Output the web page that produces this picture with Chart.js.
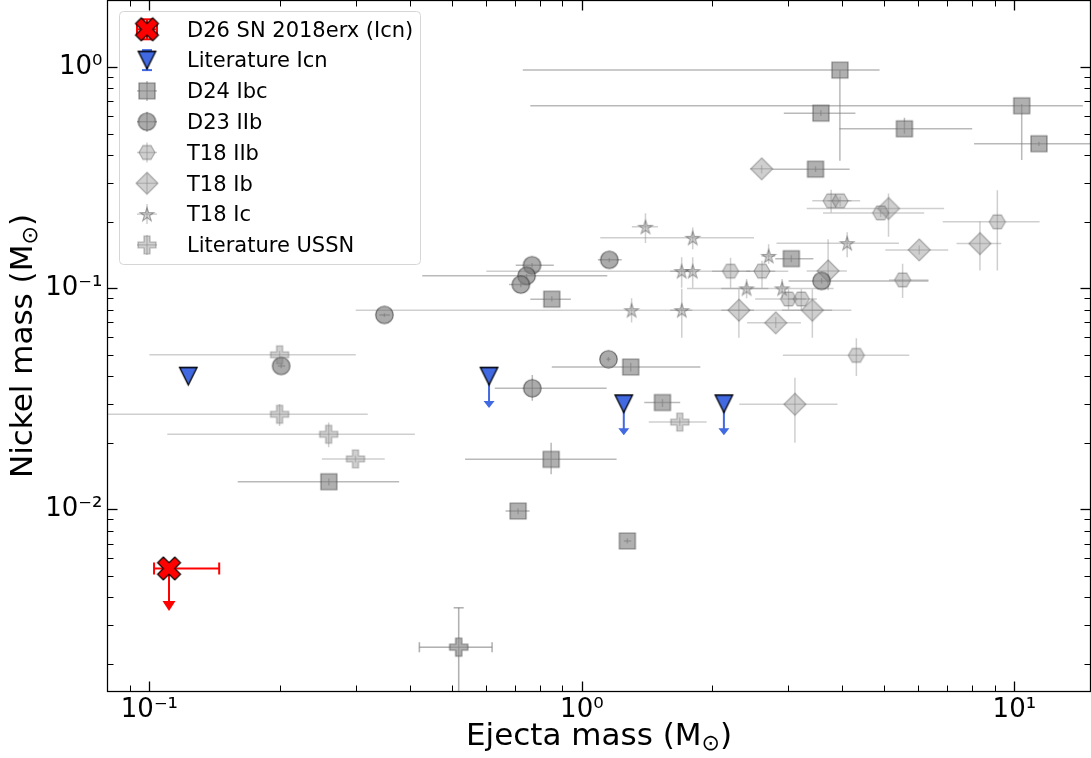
<!DOCTYPE html>
<html>
<head>
<meta charset="utf-8">
<title>Nickel mass vs ejecta mass</title>
<script src="https://cdn.jsdelivr.net/npm/chart.js@4.4.1/dist/chart.umd.min.js"></script>
<style>
html, body { margin: 0; padding: 0; background: #ffffff; overflow: hidden; }
#wrap { width: 1091px; height: 758px; }
canvas { display: block; }
</style>
</head>
<body>
<div id="wrap"><canvas id="chart" width="1091" height="758"></canvas></div>
<script>
// ================= DATA =================
const seriesLabels = ['D26 SN 2018erx (Icn)', 'Literature Icn', 'D24 Ibc', 'D23 IIb',
                      'T18 IIb', 'T18 Ib', 'T18 Ic', 'Literature USSN'];

const xAxisLimits = [0.08, 15];
const yAxisLimits = [0.0015, 2.0];
const xMajorTicks = [0.1, 1, 10];
const xMajorLabels = ['10\u207B\u00B9', '10\u2070', '10\u00B9'];
const xMinorTicks = [0.09, 0.2, 0.3, 0.4, 0.5, 0.6, 0.7, 0.8, 0.9, 2, 3, 4, 5, 6, 7, 8, 9];
const yMajorTicks = [0.01, 0.1, 1];
const yMajorLabels = ['10\u207B\u00B2', '10\u207B\u00B9', '10\u2070'];
const yMinorTicks = [0.002, 0.003, 0.004, 0.005, 0.006, 0.007, 0.008, 0.009,
                     0.02, 0.03, 0.04, 0.05, 0.06, 0.07, 0.08, 0.09,
                     0.2, 0.3, 0.4, 0.5, 0.6, 0.7, 0.8, 0.9];
const xAxisTitle = ['Ejecta mass (M', '\u2299', ')'];
const yAxisTitle = ['Nickel mass (M', '\u2299', ')'];

// D26 SN 2018erx (Icn) - upper limit in nickel mass
const d26X = [0.111];
const d26Y = [0.0054];
const d26XLo = [0.1025];
const d26XHi = [0.145];
const d26ArrowBase = [0.00385];

// Literature Icn (upper limits)
const icnX = [0.123, 0.61, 1.25, 2.13];
const icnY = [0.040, 0.040, 0.030, 0.030];
const icnArrowBase = [null, 0.0309, 0.02325, 0.02325];

// D24 Ibc
const d24X   = [3.95, 10.4, 3.57, 5.57, 11.4, 3.47, 3.05, 0.852, 1.297, 1.536, 0.849, 0.260, 0.712, 1.274];
const d24Y   = [0.969, 0.668, 0.619, 0.526, 0.450, 0.3455, 0.136, 0.0892, 0.0440, 0.0304, 0.01683, 0.01333, 0.00982, 0.00719];
const d24XLo = [0.73, 0.76, 2.93, 3.94, 8.07, 2.75, 2.80, 0.76, 0.852, 1.394, 0.537, 0.160, 0.666, 1.25];
const d24XHi = [4.88, 14.4, 4.29, 7.99, 16.0, 4.16, 3.43, 0.943, 1.879, 1.688, 1.203, 0.378, 0.757, 1.30];
const d24YLo = [0.377, 0.38, 0.60, 0.50, 0.44, 0.335, 0.131, 0.087, 0.042, 0.029, 0.0144, 0.0128, 0.0095, 0.0070];
const d24YHi = [0.97, 0.68, 0.64, 0.59, 0.46, 0.356, 0.141, 0.092, 0.046, 0.0315, 0.0200, 0.0138, 0.0101, 0.0074];

// D23 IIb
const d23X   = [0.767, 0.745, 0.7225, 1.157, 3.584, 0.3494, 0.2017, 1.152, 0.768];
const d23Y   = [0.127, 0.1137, 0.1038, 0.1343, 0.1079, 0.0757, 0.0445, 0.0477, 0.03527];
const d23XLo = [0.703, 0.4275, 0.6785, 1.089, 3.006, 0.340, 0.198, 1.14, 0.629];
const d23XHi = [0.861, 1.145, 0.758, 1.236, 6.33, 0.360, 0.206, 1.165, 1.141];
const d23YLo = [0.124, 0.111, 0.101, 0.131, 0.105, 0.074, 0.0435, 0.0466, 0.031];
const d23YHi = [0.130, 0.116, 0.106, 0.137, 0.111, 0.077, 0.0455, 0.0488, 0.0405];

// T18 IIb
const t18IIbX   = [3.77, 3.955, 4.907, 9.135, 5.516, 2.207, 2.609, 3.005, 3.217, 4.312];
const t18IIbY   = [0.2483, 0.2483, 0.219, 0.1995, 0.109, 0.1194, 0.1194, 0.0894, 0.0894, 0.0497];
const t18IIbXLo = [3.41, 3.70, 3.61, 6.83, 5.13, 2.0, 2.4, 2.515, 3.0, 2.916];
const t18IIbXHi = [4.40, 4.2, 6.19, 11.44, 6.33, 2.45, 2.8, 3.3, 3.494, 5.715];
const t18IIbYLo = [0.2197, 0.235, 0.21, 0.1203, 0.0903, 0.1005, 0.1005, 0.08, 0.08, 0.0401];
const t18IIbYHi = [0.279, 0.26, 0.228, 0.2775, 0.129, 0.1372, 0.133, 0.099, 0.099, 0.0594];

// T18 Ib
const t18IbX   = [2.604, 5.117, 6.026, 8.326, 3.71, 2.307, 3.411, 2.807, 3.109];
const t18IbY   = [0.3466, 0.2292, 0.149, 0.1591, 0.1197, 0.0795, 0.0795, 0.0697, 0.02986];
const t18IbXLo = [2.45, 3.31, 5.03, 7.35, 3.31, 2.1, 2.9, 2.41, 2.313];
const t18IbXHi = [2.75, 6.88, 7.03, 9.33, 4.10, 2.5, 4.2, 3.21, 3.9];
const t18IbYLo = [0.33, 0.1707, 0.142, 0.1203, 0.098, 0.0597, 0.0597, 0.066, 0.020];
const t18IbYHi = [0.36, 0.268, 0.156, 0.200, 0.1666, 0.099, 0.0988, 0.074, 0.0394];

// T18 Ic
const t18IcX   = [1.403, 1.804, 2.703, 4.106, 1.701, 1.804, 2.404, 2.905, 1.303, 1.702];
const t18IcY   = [0.1894, 0.1689, 0.140, 0.1598, 0.1194, 0.1194, 0.0998, 0.0998, 0.0795, 0.0795];
const t18IcXLo = [1.305, 1.103, 2.6, 2.818, 1.6, 0.6013, 2.1, 1.75, 0.30, 1.6];
const t18IcXHi = [1.499, 2.5, 2.8, 5.41, 1.8, 3.0, 2.7, 3.82, 3.79, 1.8];
const t18IcYLo = [0.160, 0.150, 0.129, 0.138, 0.1005, 0.1005, 0.090, 0.090, 0.070, 0.0597];
const t18IcYHi = [0.218, 0.188, 0.158, 0.179, 0.138, 0.138, 0.110, 0.110, 0.090, 0.0995];

// Literature USSN
const ussnX   = [0.200, 0.200, 0.2597, 0.2996, 1.684, 0.519, 0.519];
const ussnY   = [0.050, 0.0269, 0.02185, 0.0169, 0.0248, 0.00238, 0.00238];
const ussnXLo = [0.10, 0.07, 0.110, 0.2505, 1.428, 0.421, 0.421];
const ussnXHi = [0.30, 0.3198, 0.411, 0.350, 1.943, 0.620, 0.620];
const ussnYLo = [0.048, 0.0238, 0.0191, 0.0163, 0.0238, 0.0010, 0.0010];
const ussnYHi = [0.052, 0.02995, 0.0247, 0.0175, 0.026, 0.00359, 0.00359];
const ussnCapped = [false, false, false, false, false, true, true];

// ================= MARKERS =================
function shapePath(ctx, kind, s) {
  const r = s / 2;
  ctx.beginPath();
  if (kind === 'square') {
    ctx.rect(-r, -r, s, s);
  } else if (kind === 'circle') {
    ctx.arc(0, 0, r, 0, Math.PI * 2);
  } else if (kind === 'diamond') {
    ctx.moveTo(0, -r); ctx.lineTo(r, 0); ctx.lineTo(0, r); ctx.lineTo(-r, 0); ctx.closePath();
  } else if (kind === 'hexagon') {
    for (let k = 0; k < 6; k++) {
      const a = k * Math.PI / 3;
      const px = r * Math.cos(a), py = r * Math.sin(a);
      if (k === 0) ctx.moveTo(px, py); else ctx.lineTo(px, py);
    }
    ctx.closePath();
  } else if (kind === 'star') {
    const inner = r * 0.381966;
    for (let k = 0; k < 10; k++) {
      const a = -Math.PI / 2 + k * Math.PI / 5;
      const rr = (k % 2 === 0) ? r : inner;
      const px = rr * Math.cos(a), py = rr * Math.sin(a) + r * 0.1;
      if (k === 0) ctx.moveTo(px, py); else ctx.lineTo(px, py);
    }
    ctx.closePath();
  } else if (kind === 'plus') {
    const t = s / 6;
    const p = [[-t,-r],[t,-r],[t,-t],[r,-t],[r,t],[t,t],[t,r],[-t,r],[-t,t],[-r,t],[-r,-t],[-t,-t]];
    p.forEach((q, k) => k === 0 ? ctx.moveTo(q[0], q[1]) : ctx.lineTo(q[0], q[1]));
    ctx.closePath();
  } else if (kind === 'xfilled') {
    const v = [[0.25,0],[0.5,0.25],[0.75,0],[1,0.25],[0.75,0.5],[1,0.75],[0.75,1],[0.5,0.75],[0.25,1],[0,0.75],[0.25,0.5],[0,0.25]];
    v.forEach((q, k) => {
      const px = (q[0] - 0.5) * s, py = (q[1] - 0.5) * s;
      if (k === 0) ctx.moveTo(px, py); else ctx.lineTo(px, py);
    });
    ctx.closePath();
  } else if (kind === 'tridown') {
    ctx.moveTo(-r, -r); ctx.lineTo(r, -r); ctx.lineTo(0, r); ctx.closePath();
  }
}

function makeMarker(kind, size, fill, stroke, lw) {
  const c = document.createElement('canvas');
  const dim = Math.ceil(size + lw + 4);
  c.width = dim; c.height = dim;
  const g = c.getContext('2d');
  g.translate(dim / 2, dim / 2);
  shapePath(g, kind, size);
  g.fillStyle = fill; g.fill();
  g.lineWidth = lw; g.strokeStyle = stroke; g.lineJoin = 'miter'; g.stroke();
  return c;
}

const markerImgs = [
  makeMarker('xfilled', 23, '#ff0000', '#000000', 1.1),
  makeMarker('tridown', 17.5, '#4169e1', '#000000', 1.3),
  makeMarker('square', 16, 'rgba(128,128,128,0.62)', 'rgba(70,70,70,0.6)', 1.2),
  makeMarker('circle', 17.5, 'rgba(120,120,120,0.62)', 'rgba(40,40,40,0.6)', 1.2),
  makeMarker('hexagon', 16, 'rgba(140,140,140,0.42)', 'rgba(90,90,90,0.45)', 1.2),
  makeMarker('diamond', 22, 'rgba(140,140,140,0.42)', 'rgba(90,90,90,0.45)', 1.2),
  makeMarker('star', 14.5, 'rgba(150,150,150,0.42)', 'rgba(80,80,80,0.5)', 1.1),
  makeMarker('plus', 18, 'rgba(140,140,140,0.42)', 'rgba(90,90,90,0.42)', 1.2)
];

const seriesX = [d26X, icnX, d24X, d23X, t18IIbX, t18IbX, t18IcX, ussnX];
const seriesY = [d26Y, icnY, d24Y, d23Y, t18IIbY, t18IbY, t18IcY, ussnY];

const grayHeavy = 'rgba(128,128,128,0.55)';
const grayLight = 'rgba(128,128,128,0.38)';
const errorSpecs = [
  {xlo: d26XLo, xhi: d26XHi, color: '#ff0000', width: 2, cap: 6, arrow: d26ArrowBase, arrowW: 13, arrowH: 10},
  {color: '#4169e1', width: 2, cap: 0, arrow: icnArrowBase, arrowW: 11, arrowH: 7},
  {xlo: d24XLo, xhi: d24XHi, ylo: d24YLo, yhi: d24YHi, color: grayHeavy, width: 1.5, cap: 0},
  {xlo: d23XLo, xhi: d23XHi, ylo: d23YLo, yhi: d23YHi, color: grayHeavy, width: 1.5, cap: 0},
  {xlo: t18IIbXLo, xhi: t18IIbXHi, ylo: t18IIbYLo, yhi: t18IIbYHi, color: grayLight, width: 1.5, cap: 0},
  {xlo: t18IbXLo, xhi: t18IbXHi, ylo: t18IbYLo, yhi: t18IbYHi, color: grayLight, width: 1.5, cap: 0},
  {xlo: t18IcXLo, xhi: t18IcXHi, ylo: t18IcYLo, yhi: t18IcYHi, color: grayLight, width: 1.5, cap: 0},
  {xlo: ussnXLo, xhi: ussnXHi, ylo: ussnYLo, yhi: ussnYHi, color: grayLight, width: 1.5, cap: 5, capMask: ussnCapped}
];

const legendErr = [
  {color: '#ff0000', width: 2, cap: 5, h: true, v: true},
  {color: '#4169e1', width: 2, cap: 5, h: false, v: true},
  {color: grayHeavy, width: 1.5, cap: 0, h: true, v: true},
  {color: grayHeavy, width: 1.5, cap: 0, h: true, v: true},
  {color: grayLight, width: 1.5, cap: 0, h: true, v: true},
  {color: grayLight, width: 1.5, cap: 0, h: true, v: true},
  {color: grayLight, width: 1.5, cap: 0, h: true, v: true},
  {color: grayLight, width: 1.5, cap: 0, h: true, v: true}
];

// ================= HELPERS =================
function sameDecade(a, b) { return Math.abs(Math.log10(a) - Math.log10(b)) < 1e-6; }
function labelFor(v, majors, labels) {
  for (let i = 0; i < majors.length; i++) if (sameDecade(v, majors[i])) return labels[i];
  return '';
}
function seg(ctx, x1, y1, x2, y2) { ctx.beginPath(); ctx.moveTo(x1, y1); ctx.lineTo(x2, y2); ctx.stroke(); }

// ================= PLUGINS =================
const errorBarPlugin = {
  id: 'errorBars',
  beforeDatasetDraw(chart, args) {
    const spec = errorSpecs[args.index];
    if (!spec) return;
    const {ctx, chartArea: a} = chart;
    const sx = chart.scales.x, sy = chart.scales.y;
    const xs = seriesX[args.index], ys = seriesY[args.index];
    ctx.save();
    ctx.beginPath(); ctx.rect(a.left, a.top, a.right - a.left, a.bottom - a.top); ctx.clip();
    ctx.strokeStyle = spec.color; ctx.fillStyle = spec.color; ctx.lineWidth = spec.width; ctx.lineCap = 'butt';
    xs.forEach((xv, i) => {
      const px = sx.getPixelForValue(xv), py = sy.getPixelForValue(ys[i]);
      const capOn = spec.cap > 0 && (!spec.capMask || spec.capMask[i]);
      if (spec.xlo) {
        const l = sx.getPixelForValue(spec.xlo[i]), r = sx.getPixelForValue(spec.xhi[i]);
        seg(ctx, l, py, r, py);
        if (capOn) { seg(ctx, l, py - spec.cap, l, py + spec.cap); seg(ctx, r, py - spec.cap, r, py + spec.cap); }
      }
      if (spec.ylo) {
        const b = sy.getPixelForValue(spec.ylo[i]), t = sy.getPixelForValue(spec.yhi[i]);
        seg(ctx, px, b, px, t);
        if (capOn) { seg(ctx, px - spec.cap, b, px + spec.cap, b); seg(ctx, px - spec.cap, t, px + spec.cap, t); }
      }
      if (spec.arrow && spec.arrow[i] != null) {
        const base = sy.getPixelForValue(spec.arrow[i]);
        seg(ctx, px, py, px, base + 1);
        ctx.beginPath();
        ctx.moveTo(px - spec.arrowW / 2, base);
        ctx.lineTo(px + spec.arrowW / 2, base);
        ctx.lineTo(px, base + spec.arrowH);
        ctx.closePath(); ctx.fill();
      }
    });
    ctx.restore();
  }
};

const framePlugin = {
  id: 'mplFrame',
  afterDraw(chart) {
    const {ctx, chartArea: a} = chart;
    const sx = chart.scales.x, sy = chart.scales.y;
    ctx.save();
    ctx.strokeStyle = '#000000';
    // inward ticks on all four sides
    const tick = (vals, major) => {
      ctx.lineWidth = major ? 1.3 : 1.0;
      const len = major ? 10 : 6;
      vals.forEach(v => {
        const px = Math.round(sx.getPixelForValue(v)) + 0.5;
        if (px > a.left + 1 && px < a.right - 1) {
          seg(ctx, px, a.bottom, px, a.bottom - len);
          seg(ctx, px, a.top, px, a.top + len);
        }
      });
    };
    const ytick = (vals, major) => {
      ctx.lineWidth = major ? 1.3 : 1.0;
      const len = major ? 10 : 6;
      vals.forEach(v => {
        const py = Math.round(sy.getPixelForValue(v)) + 0.5;
        if (py > a.top + 1 && py < a.bottom - 1) {
          seg(ctx, a.left, py, a.left + len, py);
          seg(ctx, a.right, py, a.right - len, py);
        }
      });
    };
    tick(xMinorTicks, false); tick(xMajorTicks, true);
    ytick(yMinorTicks, false); ytick(yMajorTicks, true);
    // spines
    ctx.lineWidth = 1.25;
    ctx.strokeRect(a.left, a.top, a.right - a.left, a.bottom - a.top);

    // axis titles with subscript sun symbol
    const fs = 31;
    const drawTitle = (parts) => {
      ctx.font = fs + 'px "DejaVu Sans"';
      const w0 = ctx.measureText(parts[0]).width;
      ctx.font = Math.round(fs * 0.7) + 'px "DejaVu Sans"';
      const w1 = ctx.measureText(parts[1]).width;
      ctx.font = fs + 'px "DejaVu Sans"';
      const w2 = ctx.measureText(parts[2]).width;
      const tot = w0 + w1 + w2;
      let x = -tot / 2;
      ctx.textAlign = 'left'; ctx.textBaseline = 'alphabetic'; ctx.fillStyle = '#000';
      ctx.fillText(parts[0], x, 0); x += w0;
      ctx.font = Math.round(fs * 0.7) + 'px "DejaVu Sans"';
      ctx.fillText(parts[1], x, fs * 0.16); x += w1;
      ctx.font = fs + 'px "DejaVu Sans"';
      ctx.fillText(parts[2], x, 0);
    };
    ctx.save();
    ctx.translate((a.left + a.right) / 2, 745);
    drawTitle(xAxisTitle);
    ctx.restore();
    ctx.save();
    ctx.translate(32, (a.top + a.bottom) / 2);
    ctx.rotate(-Math.PI / 2);
    drawTitle(yAxisTitle);
    ctx.restore();

    // legend
    const L = {x: 119.5, y: 11.5, w: 301, h: 253, r: 4};
    ctx.beginPath();
    ctx.moveTo(L.x + L.r, L.y);
    ctx.lineTo(L.x + L.w - L.r, L.y); ctx.quadraticCurveTo(L.x + L.w, L.y, L.x + L.w, L.y + L.r);
    ctx.lineTo(L.x + L.w, L.y + L.h - L.r); ctx.quadraticCurveTo(L.x + L.w, L.y + L.h, L.x + L.w - L.r, L.y + L.h);
    ctx.lineTo(L.x + L.r, L.y + L.h); ctx.quadraticCurveTo(L.x, L.y + L.h, L.x, L.y + L.h - L.r);
    ctx.lineTo(L.x, L.y + L.r); ctx.quadraticCurveTo(L.x, L.y, L.x + L.r, L.y);
    ctx.closePath();
    ctx.fillStyle = 'rgba(255,255,255,0.8)'; ctx.fill();
    ctx.lineWidth = 1; ctx.strokeStyle = '#d6d6d6'; ctx.stroke();

    ctx.font = '21px "DejaVu Sans"';
    ctx.textAlign = 'left'; ctx.textBaseline = 'alphabetic';
    seriesLabels.forEach((lab, i) => {
      const cy = 29.3 + i * 30.8, cx = 147;
      const e = legendErr[i];
      ctx.strokeStyle = e.color; ctx.lineWidth = e.width;
      if (e.h) {
        seg(ctx, cx - 10, cy, cx + 10, cy);
        if (e.cap) { seg(ctx, cx - 10, cy - e.cap, cx - 10, cy + e.cap); seg(ctx, cx + 10, cy - e.cap, cx + 10, cy + e.cap); }
      }
      if (e.v) {
        seg(ctx, cx, cy - 10, cx, cy + 10);
        if (e.cap) { seg(ctx, cx - e.cap, cy - 10, cx + e.cap, cy - 10); seg(ctx, cx - e.cap, cy + 10, cx + e.cap, cy + 10); }
      }
      const img = markerImgs[i];
      ctx.drawImage(img, cx - img.width / 2, cy - img.height / 2);
      ctx.fillStyle = '#000';
      ctx.fillText(lab, 187, 36.5 + i * 30.8);
    });
    ctx.restore();
  }
};

// ================= CHART =================
Chart.defaults.font.family = "'DejaVu Sans', sans-serif";

const datasets = seriesLabels.map((lab, i) => ({
  label: lab,
  data: seriesX[i].map((v, k) => ({x: v, y: seriesY[i][k]})),
  pointStyle: markerImgs[i],
  pointRadius: 9,
  pointHoverRadius: 9,
  showLine: false
}));

new Chart(document.getElementById('chart'), {
  type: 'scatter',
  data: {datasets},
  options: {
    responsive: false,
    animation: false,
    devicePixelRatio: 1,
    events: [],
    layout: {autoPadding: false, padding: {left: 0, right: 0.5, top: 0.5, bottom: 0}},
    plugins: {legend: {display: false}, tooltip: {enabled: false}},
    scales: {
      x: {
        type: 'logarithmic', position: 'bottom',
        min: xAxisLimits[0], max: xAxisLimits[1],
        grid: {display: false, drawTicks: false},
        border: {display: false},
        ticks: {
          autoSkip: false, maxRotation: 0, minRotation: 0, padding: 3,
          color: '#000', font: {size: 26},
          callback: (v) => labelFor(v, xMajorTicks, xMajorLabels)
        },
        afterBuildTicks: (s) => {
          s.ticks = xMajorTicks.concat(xMinorTicks).sort((p, q) => p - q).map(v => ({value: v}));
        },
        afterFit: (s) => { s.height = 66.5; s.paddingLeft = 0; s.paddingRight = 0; s.paddingTop = 0; s.paddingBottom = 0; }
      },
      y: {
        type: 'logarithmic', position: 'left',
        min: yAxisLimits[0], max: yAxisLimits[1],
        grid: {display: false, drawTicks: false},
        border: {display: false},
        ticks: {
          autoSkip: false, padding: 5,
          color: '#000', font: {size: 26},
          callback: (v) => labelFor(v, yMajorTicks, yMajorLabels)
        },
        afterBuildTicks: (s) => {
          s.ticks = yMajorTicks.concat(yMinorTicks).sort((p, q) => p - q).map(v => ({value: v}));
        },
        afterFit: (s) => { s.width = 107.5; s.paddingLeft = 0; s.paddingRight = 0; s.paddingTop = 0; s.paddingBottom = 0; }
      }
    }
  },
  plugins: [errorBarPlugin, framePlugin]
});
</script>
</body>
</html>
